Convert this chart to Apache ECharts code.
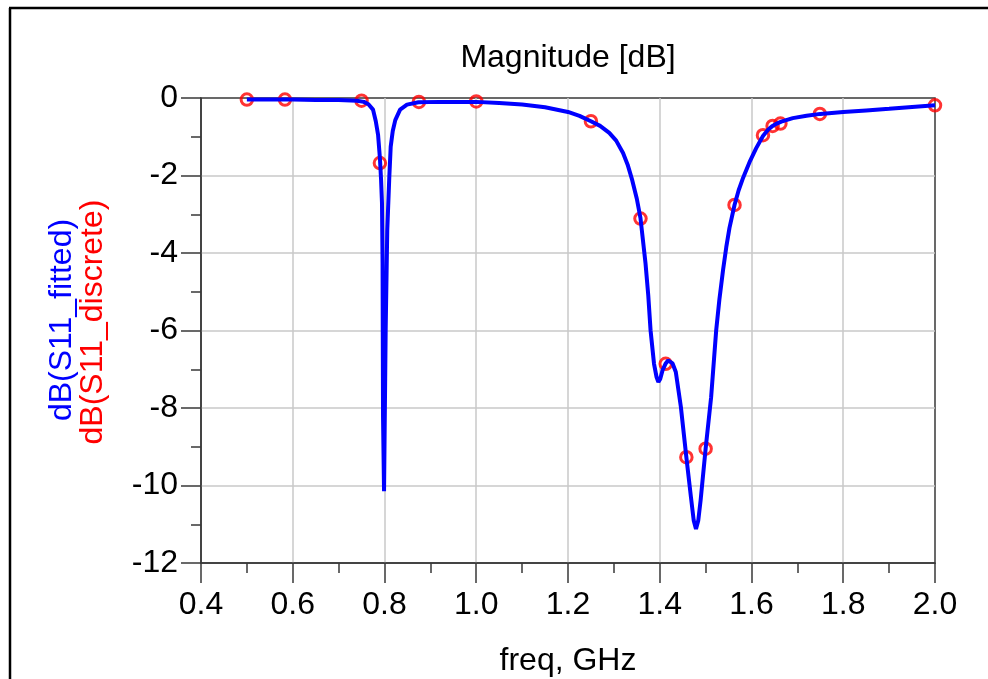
<!DOCTYPE html>
<html>
<head>
<meta charset="utf-8">
<script src="https://cdn.jsdelivr.net/npm/echarts@6/dist/echarts.min.js"></script>
<style>
html,body{margin:0;padding:0;background:#fff;}
#chart{width:988px;height:679px;}
</style>
</head>
<body>
<div id="chart"></div>
<script>
// Fitted curve (dB(S11_fitted))
var fitFreq = [0.500,0.550,0.600,0.650,0.700,0.740,0.755,0.765,0.775,0.781,0.786,0.790,0.7925,0.7945,0.7958,0.7968,0.7990,0.8026,0.8060,0.8105,0.8135,0.8180,0.8235,0.8340,0.8490,0.8740,0.9200,1.000,1.050,1.100,1.150,1.200,1.225,1.250,1.270,1.290,1.305,1.320,1.330,1.340,1.350,1.358,1.369,1.375,1.380,1.3875,1.393,1.397,1.401,1.406,1.413,1.418,1.422,1.428,1.435,1.446,1.458,1.468,1.474,1.479,1.484,1.489,1.500,1.512,1.523,1.530,1.538,1.545,1.552,1.563,1.572,1.582,1.597,1.610,1.625,1.636,1.646,1.655,1.665,1.690,1.720,1.750,1.800,1.850,1.900,1.950,2.000];
var fitDb = [-0.04,-0.04,-0.04,-0.05,-0.05,-0.07,-0.10,-0.16,-0.30,-0.60,-0.95,-1.55,-2.10,-2.70,-4.27,-8.24,-10.15,-5.94,-3.41,-2.03,-1.26,-0.85,-0.57,-0.30,-0.17,-0.11,-0.10,-0.10,-0.13,-0.17,-0.24,-0.36,-0.46,-0.60,-0.72,-0.90,-1.10,-1.42,-1.72,-2.12,-2.60,-3.10,-4.27,-5.10,-6.00,-6.86,-7.20,-7.33,-7.25,-7.03,-6.85,-6.77,-6.77,-6.85,-7.07,-7.97,-9.27,-10.30,-10.90,-11.12,-10.90,-10.39,-9.05,-7.72,-6.00,-5.20,-4.44,-3.85,-3.35,-2.76,-2.38,-2.05,-1.62,-1.30,-0.98,-0.82,-0.72,-0.66,-0.61,-0.52,-0.46,-0.41,-0.36,-0.32,-0.28,-0.23,-0.19];
// Discrete samples (dB(S11_discrete))
var discFreq = [0.500,0.583,0.750,0.790,0.875,1.000,1.250,1.358,1.413,1.458,1.500,1.563,1.625,1.646,1.663,1.749,2.000];
var discDb = [-0.04,-0.04,-0.07,-1.68,-0.10,-0.09,-0.60,-3.11,-6.86,-9.27,-9.05,-2.76,-0.96,-0.72,-0.66,-0.41,-0.19];
// Axis ticks
var xTicks = [0.4,0.6,0.8,1.0,1.2,1.4,1.6,1.8,2.0];
var yTicks = [0,-2,-4,-6,-8,-10,-12];
var titleText = 'Magnitude [dB]';
var xName = 'freq, GHz';
var yNameFitted = 'dB(S11_fitted)';
var yNameDiscrete = 'dB(S11_discrete)';

var FONT = '"Liberation Sans", Arial, sans-serif';
var chart = echarts.init(document.getElementById('chart'), null, {renderer:'canvas'});

var fitData = fitFreq.map(function(f,i){return [f, fitDb[i]];});
var discData = discFreq.map(function(f,i){return [f, discDb[i]];});

var axisDark = '#383838';
var gridGray = '#c8c8c8';

chart.setOption({
  animation:false,
  backgroundColor:'#ffffff',
  grid:{left:201,right:53,top:98,bottom:116,show:true,borderColor:axisDark,borderWidth:1.5,backgroundColor:'rgba(0,0,0,0)'},
  xAxis:{
    type:'value', min:xTicks[0], max:xTicks[xTicks.length-1], interval:0.2,
    axisLine:{show:true,onZero:false,lineStyle:{color:axisDark,width:1.5}},
    axisTick:{show:true,inside:false,length:20,lineStyle:{color:axisDark,width:1.5}},
    minorTick:{show:true,splitNumber:2,length:10,lineStyle:{color:axisDark,width:1.5}},
    splitLine:{show:true,showMinLine:false,showMaxLine:false,lineStyle:{color:gridGray,width:1.5}},
    axisLabel:{margin:26,fontSize:32,fontFamily:FONT,color:'#000',formatter:function(v){return v.toFixed(1);}}
  },
  yAxis:{
    type:'value', min:yTicks[yTicks.length-1], max:yTicks[0], interval:2,
    axisLine:{show:true,onZero:false,lineStyle:{color:axisDark,width:1.5}},
    axisTick:{show:true,inside:false,length:20,lineStyle:{color:axisDark,width:1.5}},
    minorTick:{show:true,splitNumber:2,length:10,lineStyle:{color:axisDark,width:1.5}},
    splitLine:{show:true,showMinLine:false,showMaxLine:false,lineStyle:{color:gridGray,width:1.5}},
    axisLabel:{margin:23,fontSize:32,fontFamily:FONT,color:'#000'}
  },
  series:[
    {type:'scatter',name:yNameDiscrete,data:discData,symbol:'circle',symbolSize:11.5,
     itemStyle:{color:'rgba(0,0,0,0)',borderColor:'#ff0000',borderWidth:3},z:3},
    {type:'line',name:yNameFitted,data:fitData,showSymbol:false,symbol:'none',smooth:false,
     lineStyle:{color:'#0000ff',width:4},z:4}
  ],
  graphic:[
    {type:'line',shape:{x1:9,y1:8,x2:988,y2:8},style:{stroke:'#000',lineWidth:2.5},silent:true},
    {type:'line',shape:{x1:10,y1:8,x2:10,y2:679},style:{stroke:'#000',lineWidth:2.5},silent:true},
    {type:'text',x:568,y:58,style:{text:titleText,font:'32px '+FONT,fill:'#000',textAlign:'center',textVerticalAlign:'middle'}},
    {type:'text',x:568,y:661,style:{text:xName,font:'32px '+FONT,fill:'#000',textAlign:'center',textVerticalAlign:'middle'}},
    {type:'text',x:62,y:320,rotation:Math.PI/2,style:{text:yNameFitted,font:'32px '+FONT,fill:'#0000ff',textAlign:'center',textVerticalAlign:'middle'}},
    {type:'text',x:93,y:322,rotation:Math.PI/2,style:{text:yNameDiscrete,font:'32px '+FONT,fill:'#ff0000',textAlign:'center',textVerticalAlign:'middle'}}
  ]
});
</script>
</body>
</html>
